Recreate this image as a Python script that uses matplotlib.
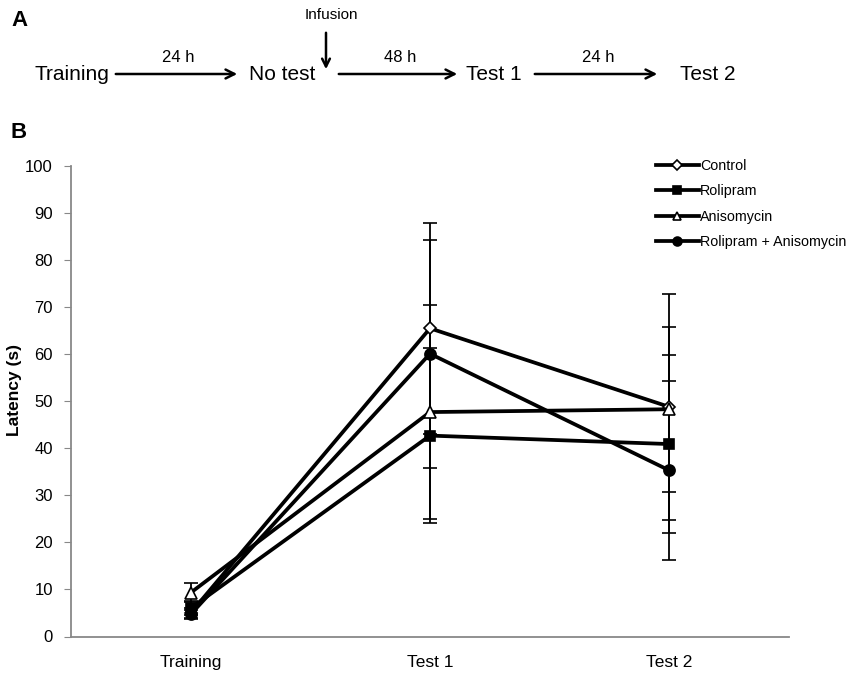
import matplotlib
matplotlib.use('Agg')
import matplotlib.pyplot as plt
from matplotlib.patches import FancyArrowPatch

plt.rcParams['font.family'] = ['Liberation Sans', 'DejaVu Sans']

days = ['Training', 'Test 1', 'Test 2']

control = [5.0, 65.5, 48.8]
control_err = [1.0, 22.4, 24.0]
rolipram = [6.0, 42.7, 40.9]
rolipram_err = [1.5, 18.6, 19.0]
aniso = [9.3, 47.7, 48.3]
aniso_err = [2.0, 22.7, 17.5]
rol_aniso = [4.7, 60.1, 35.3]
rol_aniso_err = [1.0, 24.2, 19.0]

# timeline for panel A
steps = ['Training', 'No test', 'Test 1', 'Test 2']
gaps = ['24 h', '48 h', '24 h']

W, H = 850, 681
fig = plt.figure(figsize=(8.5, 6.81), dpi=100)

def fx(px):
    return px / W

def fy(py):
    return 1 - py / H

# ---- panel A ----
fig.text(fx(11), fy(21), 'A', fontsize=16, fontweight='bold', va='center', ha='left')
fig.text(fx(11), fy(132), 'B', fontsize=16, fontweight='bold', va='center', ha='left')

step_x = [72, 282, 494, 708]
arrows = [(113, 240), (336, 460), (532, 660)]
ty = 74
for name, x in zip(steps, step_x):
    fig.text(fx(x), fy(ty), name, fontsize=15, ha='center', va='center')
for (x0, x1), lab in zip(arrows, gaps):
    fig.add_artist(FancyArrowPatch(
        (fx(x0), fy(ty)), (fx(x1), fy(ty)), transform=fig.transFigure,
        arrowstyle='->', mutation_scale=16, lw=1.8, color='black'))
    fig.text(fx((x0 + x1) / 2 + 2), fy(57), lab, fontsize=12, ha='center', va='center')

fig.add_artist(FancyArrowPatch(
    (fx(326), fy(30)), (fx(326), fy(72)), transform=fig.transFigure,
    arrowstyle='->', mutation_scale=14, lw=1.8, color='black'))
fig.text(fx(331), fy(15), 'Infusion', fontsize=11, ha='center', va='center')

# ---- panel B ----
ax = fig.add_axes([fx(71), fy(636.5), fx(789) - fx(71), fy(166) - fy(636.5)])
x = [0, 1, 2]

series = [
    ('Control', control, control_err, 'D', 'white', 6),
    ('Rolipram', rolipram, rolipram_err, 's', 'black', 7),
    ('Anisomycin', aniso, aniso_err, '^', 'white', 8),
    ('Rolipram + Anisomycin', rol_aniso, rol_aniso_err, 'o', 'black', 8),
]
for name, vals, err, mk, fc, ms in series:
    ax.errorbar(x, vals, yerr=err, color='black', lw=2.7, marker=mk, mfc=fc,
                mec='black', mew=1.2, ms=ms, elinewidth=1.3, capsize=5,
                capthick=1.3, label=name)

ax.set_xlim(-0.5, 2.5)
ax.set_ylim(0, 100)
ax.set_yticks(range(0, 101, 10))
ax.set_xticks(x)
ax.set_xticklabels(days)
ax.tick_params(axis='x', length=0, labelsize=12.5, pad=13)
ax.tick_params(axis='y', length=5, color='#888888', labelsize=12, pad=8)
ax.set_ylabel('Latency (s)', fontsize=12.5, fontweight='bold', va='center')
ax.yaxis.set_label_coords(fx(14), fy(390), transform=fig.transFigure)
for s in ['top', 'right']:
    ax.spines[s].set_visible(False)
for s in ['left', 'bottom']:
    ax.spines[s].set_color('#888888')
    ax.spines[s].set_linewidth(1.3)

handles, labels = ax.get_legend_handles_labels()
handles = [h[0] for h in handles]
ax.legend(handles, labels, loc='upper left', bbox_to_anchor=(fx(650), fy(153)),
          bbox_transform=fig.transFigure, frameon=False, fontsize=10.3,
          handlelength=3.0, handletextpad=0.1, labelspacing=0.8,
          markerscale=0.8, borderaxespad=0)

fig.savefig('out.png', dpi=100)
